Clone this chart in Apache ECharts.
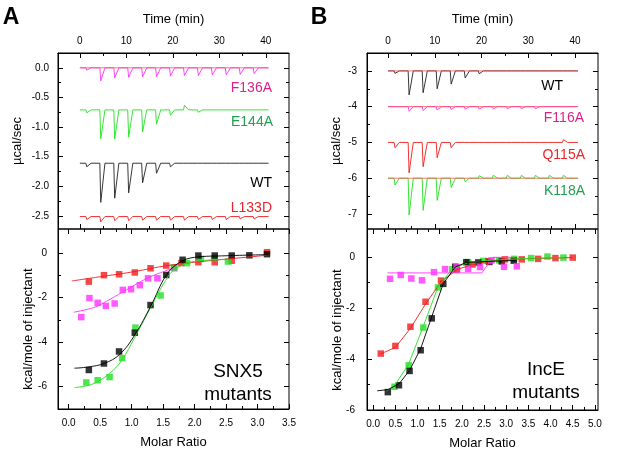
<html>
<head>
<meta charset="utf-8">
<script src="https://cdn.jsdelivr.net/npm/echarts@6/dist/echarts.min.js"></script>
<style>
  html, body { margin: 0; padding: 0; background: #fff; }
  #main { width: 617px; height: 460px; }
</style>
</head>
<body>
<div id="main"></div>
<script>
// injection times (min), shared by all thermograms
var injTimes = [1.3, 4.3, 7.3, 10.3, 13.3, 16.3, 19.3, 22.3, 25.3, 28.3, 31.3, 34.3, 37.3];

// panel A raw heats: baseline and peak value per injection (ucal/sec)
var aF136ABase = 0.0;
var aF136APeaks = [-0.04, -0.22, -0.17, -0.16, -0.15, -0.15, -0.14, -0.13, -0.13, -0.12, -0.12, -0.11, -0.10];
var aE144ABase = -0.71;
var aE144APeaks = [-0.76, -1.2, -1.2, -1.17, -1.08, -0.95, -0.8, -0.63, -0.75, -0.74, -0.74, -0.74, -0.73];
var aWTBase = -1.61;
var aWTPeaks = [-1.67, -2.27, -2.2, -2.11, -1.94, -1.78, -1.67, -1.64, -1.63, -1.63, -1.63, -1.63, -1.62];
var aL133DBase = -2.51;
var aL133DPeaks = [-2.56, -2.6, -2.58, -2.58, -2.57, -2.57, -2.57, -2.57, -2.56, -2.56, -2.56, -2.55, -2.55];

// panel B raw heats
var bWTBase = -3.0;
var bWTPeaks = [-3.07, -3.67, -3.61, -3.5, -3.37, -3.2, -3.08, -2.97, -2.97, -2.97, -2.96, -2.96, -2.96];
var bF116ABase = -4.0;
var bF116APeaks = [-4.04, -4.13, -4.11, -4.09, -4.08, -4.07, -4.07, -4.06, -4.06, -4.06, -4.06, -4.05, -4.05];
var bQ115ABase = -5.0;
var bQ115APeaks = [-5.15, -5.85, -5.68, -5.43, -5.15, -5.05, -5.04, -5.04, -5.03, -5.03, -5.03, -5.03, -4.92];
var bK118ABase = -6.0;
var bK118APeaks = [-6.19, -7.03, -6.9, -6.62, -6.26, -6.1, -5.93, -5.92, -5.92, -5.92, -5.92, -5.92, -5.92];

// panel A integrated heats [molar ratio, kcal/mol]
var aRedPts = [[0.32,-1.29],[0.56,-1.0],[0.80,-0.96],[1.05,-0.88],[1.30,-0.69],[1.55,-0.57],[1.79,-0.46],[2.06,-0.42],[2.32,-0.42],[2.59,-0.35],[3.15,0.03]];
var aMagPts = [[0.20,-2.88],[0.33,-2.03],[0.46,-2.24],[0.59,-2.38],[0.73,-2.27],[0.86,-1.66],[0.99,-1.63],[1.13,-1.45],[1.26,-1.14],[1.41,-1.14],[1.68,-0.69]];
var aBlackPts = [[0.32,-5.25],[0.56,-4.96],[0.80,-4.42],[1.05,-3.58],[1.30,-2.34],[1.55,-0.99],[1.81,-0.31],[2.06,-0.12],[2.32,-0.12],[2.59,-0.12],[2.87,-0.11],[3.15,-0.06]];
var aGreenPts = [[0.28,-5.81],[0.46,-5.71],[0.65,-5.57],[0.85,-4.72],[1.06,-3.35],[1.46,-1.91],[1.67,-0.65],[1.88,-0.46],[2.10,-0.27],[2.31,-0.24],[2.53,-0.39]];
var aRedFit = [[0.05,-1.26],[0.5,-1.07],[1.0,-0.86],[1.5,-0.6],[2.0,-0.42],[2.5,-0.28],[3.0,-0.15],[3.15,-0.1]];
var aMagFit = [[0.08,-2.66],[0.4,-2.45],[0.6,-2.17],[0.86,-1.75],[1.26,-1.12],[1.66,-0.69]];
var aBlackFit = [[0.09,-5.17],[0.3,-5.12],[0.57,-4.95],[0.81,-4.55],[1.05,-3.68],[1.31,-2.35],[1.55,-1.0],[1.75,-0.45],[2.0,-0.2],[2.5,-0.13],[3.15,-0.08]];
var aGreenFit = [[0.09,-6.04],[0.3,-5.95],[0.46,-5.77],[0.65,-5.4],[0.83,-4.87],[1.07,-3.68],[1.31,-2.41],[1.58,-1.06],[1.74,-0.64],[2.0,-0.38],[2.5,-0.3]];

// panel B integrated heats
var bRedPts = [[0.17,-3.79],[0.50,-3.49],[0.84,-2.74],[1.18,-1.76],[1.53,-0.93],[1.89,-0.5],[2.24,-0.3],[2.60,-0.17],[2.97,-0.1],[3.35,-0.1],[3.72,-0.08],[4.11,-0.05],[4.50,-0.03]];
var bMagPts = [[0.38,-0.86],[0.62,-0.71],[0.86,-0.85],[1.10,-0.92],[1.37,-0.6],[1.62,-0.48],[1.88,-0.4],[2.14,-0.47],[2.41,-0.4],[2.67,-0.14],[2.95,-0.39],[3.24,-0.37]];
var bBlackPts = [[0.33,-5.3],[0.58,-5.03],[0.82,-4.47],[1.07,-3.66],[1.32,-2.41],[1.58,-1.06],[1.85,-0.39],[2.10,-0.21],[2.37,-0.22],[2.62,-0.2],[2.90,-0.18],[3.17,-0.15]];
var bGreenPts = [[0.48,-5.09],[0.80,-4.25],[1.13,-2.77],[1.46,-1.2],[1.78,-0.49],[2.14,-0.21],[2.48,-0.16],[2.84,-0.14],[3.18,-0.08],[3.56,-0.05],[3.93,0.01],[4.29,-0.03]];
var bRedFit = [[0.17,-3.8],[0.5,-3.55],[0.84,-2.8],[1.18,-1.85],[1.53,-0.98],[1.89,-0.5],[2.24,-0.3],[2.6,-0.17],[3.0,-0.1],[3.5,-0.07],[4.0,-0.05],[4.5,-0.03]];
var bMagFit = [[0.32,-0.63],[2.45,-0.63],[2.7,-0.02],[3.2,-0.02]];
var bBlackFit = [[0.09,-5.25],[0.33,-5.2],[0.58,-4.98],[0.82,-4.45],[1.07,-3.6],[1.32,-2.35],[1.58,-1.05],[1.85,-0.4],[2.1,-0.22],[2.6,-0.18],[3.2,-0.14]];
var bGreenFit = [[0.3,-5.25],[0.48,-5.05],[0.8,-4.2],[1.13,-2.72],[1.46,-1.18],[1.78,-0.48],[2.14,-0.22],[2.5,-0.16],[3.0,-0.1],[3.5,-0.06],[4.3,-0.03]];

// tick values
var timeTicks = [0, 10, 20, 30, 40];
var timeMinor = [5, 15, 25, 35];
var aRawTicks = [-2.5, -2, -1.5, -1, -0.5, 0];
var aRawMinor = [-2.25, -1.75, -1.25, -0.75, -0.25];
var bRawTicks = [-7, -6, -5, -4, -3];
var bRawMinor = [-6.5, -5.5, -4.5, -3.5];
var heatTicks = [-6, -4, -2, 0];
var heatMinor = [-5, -3, -1];
var aRatioTicks = [0, 0.5, 1, 1.5, 2, 2.5, 3, 3.5];
var aRatioMinor = [0.25, 0.75, 1.25, 1.75, 2.25, 2.75, 3.25];
var bRatioTicks = [0, 0.5, 1, 1.5, 2, 2.5, 3, 3.5, 4, 4.5, 5];
var bRatioMinor = [0.25, 0.75, 1.25, 1.75, 2.25, 2.75, 3.25, 3.75, 4.25, 4.75];

var FONT = '"Liberation Sans", Arial, sans-serif';
var C_RED = '#f01c1c', C_MAG = '#ff30ff', C_GRN = '#22e022', C_BLK = '#000';

function thermo(base, peaks) {
  var pts = [[0, base]];
  injTimes.forEach(function (t, i) {
    pts.push([t, base], [t + 0.2, peaks[i]], [t + 1.1, base]);
  });
  pts.push([40.6, base]);
  return pts;
}

var xAxes = [], yAxes = [];
function addAxes(list, g, mainPos, otherPos, min, max, major, minor, cfg) {
  var idx = list.length;
  function ax(pos, ticks, len, main) {
    return {
      type: 'value', gridIndex: g, position: pos, min: min, max: max,
      name: main && cfg.name ? cfg.name : '', nameLocation: 'middle', nameGap: cfg.nameGap,
      nameTextStyle: { fontFamily: FONT, fontSize: 13, color: '#000' },
      axisLine: { show: main, onZero: false, lineStyle: { color: '#000', width: 1 } },
      axisTick: { show: true, inside: true, length: len, customValues: ticks, lineStyle: { color: '#000' } },
      axisLabel: { show: main, customValues: ticks, formatter: cfg.fmt, margin: cfg.margin,
                   fontFamily: FONT, fontSize: 10, color: '#000' },
      splitLine: { show: false }
    };
  }
  list.push(ax(mainPos, major, 5, true), ax(mainPos, minor, 3, false),
            ax(otherPos, major, 5, false), ax(otherPos, minor, 3, false));
  return idx;
}
function f1(v) { return v.toFixed(1); }
function f0(v) { return String(v); }

var grids = [
  { left: 58, top: 53, width: 231, height: 176 },
  { left: 58, top: 229, width: 231, height: 180 },
  { left: 367, top: 53, width: 231, height: 176 },
  { left: 367, top: 229, width: 231, height: 181 }
].map(function (g) { g.show = true; g.borderColor = '#000'; g.borderWidth = 1; return g; });

var xA0 = addAxes(xAxes, 0, 'top', 'bottom', -4.7, 45, timeTicks, timeMinor, { fmt: f0, margin: 7, name: 'Time (min)', nameGap: 27 });
var yA0 = addAxes(yAxes, 0, 'left', 'right', -2.72, 0.25, aRawTicks, aRawMinor, { fmt: f1, margin: 9, name: '\u00b5cal/sec', nameGap: 34 });
var xA1 = addAxes(xAxes, 1, 'bottom', 'top', -0.17, 3.5, aRatioTicks, aRatioMinor, { fmt: f1, margin: 9, name: 'Molar Ratio', nameGap: 27 });
var yA1 = addAxes(yAxes, 1, 'left', 'right', -7, 1.07, heatTicks, heatMinor, { fmt: f0, margin: 11 });
var xB0 = addAxes(xAxes, 2, 'top', 'bottom', -4.5, 44.9, timeTicks, timeMinor, { fmt: f0, margin: 7, name: 'Time (min)', nameGap: 27 });
var yB0 = addAxes(yAxes, 2, 'left', 'right', -7.42, -2.5, bRawTicks, bRawMinor, { fmt: f0, margin: 10, name: '\u00b5cal/sec', nameGap: 24 });
var xB1 = addAxes(xAxes, 3, 'bottom', 'top', -0.14, 5.07, bRatioTicks, bRatioMinor, { fmt: f1, margin: 9, name: 'Molar Ratio', nameGap: 27 });
var yB1 = addAxes(yAxes, 3, 'left', 'right', -6, 1.09, heatTicks, heatMinor, { fmt: f0, margin: 12 });

function line(xi, yi, data, color, smooth, w) {
  return { type: 'line', xAxisIndex: xi, yAxisIndex: yi, data: data, symbol: 'none', smooth: smooth ? 0.4 : false,
           lineStyle: { color: color, width: w || 0.9 }, silent: true };
}
function dots(xi, yi, data, color) {
  return { type: 'scatter', xAxisIndex: xi, yAxisIndex: yi, data: data, symbol: 'rect', symbolSize: 6.5,
           itemStyle: { color: color }, silent: true };
}
function base(xi, yi, v) {
  return line(xi, yi, [[0, v], [40.6, v]], '#ff5050', false, 0.8);
}

var series = [
  line(xA0, yA0, thermo(aF136ABase, aF136APeaks), C_MAG),
  base(xA0, yA0, aF136ABase),
  line(xA0, yA0, thermo(aE144ABase, aE144APeaks), C_GRN),
  line(xA0, yA0, thermo(aWTBase, aWTPeaks), '#222'),
  line(xA0, yA0, thermo(aL133DBase, aL133DPeaks), C_RED),

  line(xB0, yB0, thermo(bWTBase, bWTPeaks), '#222'),
  base(xB0, yB0, bWTBase),
  line(xB0, yB0, thermo(bF116ABase, bF116APeaks), C_MAG),
  base(xB0, yB0, bF116ABase),
  line(xB0, yB0, thermo(bQ115ABase, bQ115APeaks), C_RED),
  line(xB0, yB0, thermo(bK118ABase, bK118APeaks), C_GRN),
  base(xB0, yB0, bK118ABase),

  line(xA1, yA1, aRedFit, C_RED, true),
  line(xA1, yA1, aMagFit, C_MAG, true),
  line(xA1, yA1, aGreenFit, C_GRN, true),
  line(xA1, yA1, aBlackFit, C_BLK, true),
  dots(xA1, yA1, aRedPts, C_RED),
  dots(xA1, yA1, aMagPts, C_MAG),
  dots(xA1, yA1, aGreenPts, C_GRN),
  dots(xA1, yA1, aBlackPts, C_BLK),

  line(xB1, yB1, bRedFit, C_RED),
  line(xB1, yB1, bMagFit, C_MAG),
  line(xB1, yB1, bGreenFit, C_GRN),
  line(xB1, yB1, bBlackFit, C_BLK),
  dots(xB1, yB1, bGreenPts, C_GRN),
  dots(xB1, yB1, bBlackPts, C_BLK),
  dots(xB1, yB1, bRedPts, C_RED),
  dots(xB1, yB1, bMagPts, C_MAG)
];

function txt(s, x, y, color, size, align, bold, rot) {
  return { type: 'text', x: x, y: y, rotation: rot || 0, silent: true,
           style: { text: s, fill: color, align: align || 'right', verticalAlign: 'middle',
                    font: (bold ? 'bold ' : '') + size + 'px ' + FONT, lineHeight: size * 1.2 } };
}

var graphics = [
  txt('A', 11, 18, '#000', 23, 'center', true),
  txt('B', 319, 18, '#000', 23, 'center', true),
  txt('F136A', 272, 88, '#dd1f8a', 14),
  txt('E144A', 273, 122, '#20a050', 14),
  txt('WT', 272, 183, '#000', 14),
  txt('L133D', 272, 208, '#e8262b', 14),
  txt('WT', 563, 86, '#000', 14),
  txt('F116A', 584, 118, '#dd1f8a', 14),
  txt('Q115A', 585, 155, '#e8262b', 14),
  txt('K118A', 585, 191, '#20a050', 14),
  txt('SNX5\nmutants', 238, 383, '#000', 19, 'center'),
  txt('IncE\nmutants', 546, 381, '#000', 19, 'center'),
  // y titles of the isotherm panels sit a little below the axis middle
  txt('kcal/mole of injectant', 28, 329, '#000', 13, 'center', false, Math.PI / 2),
  txt('kcal/mole of injectant', 337, 330, '#000', 13, 'center', false, Math.PI / 2)
];

var chart = echarts.init(document.getElementById('main'), null, { renderer: 'canvas' });
chart.setOption({
  animation: false,
  backgroundColor: '#fff',
  grid: grids,
  xAxis: xAxes,
  yAxis: yAxes,
  series: series,
  graphic: graphics
});
</script>
</body>
</html>
